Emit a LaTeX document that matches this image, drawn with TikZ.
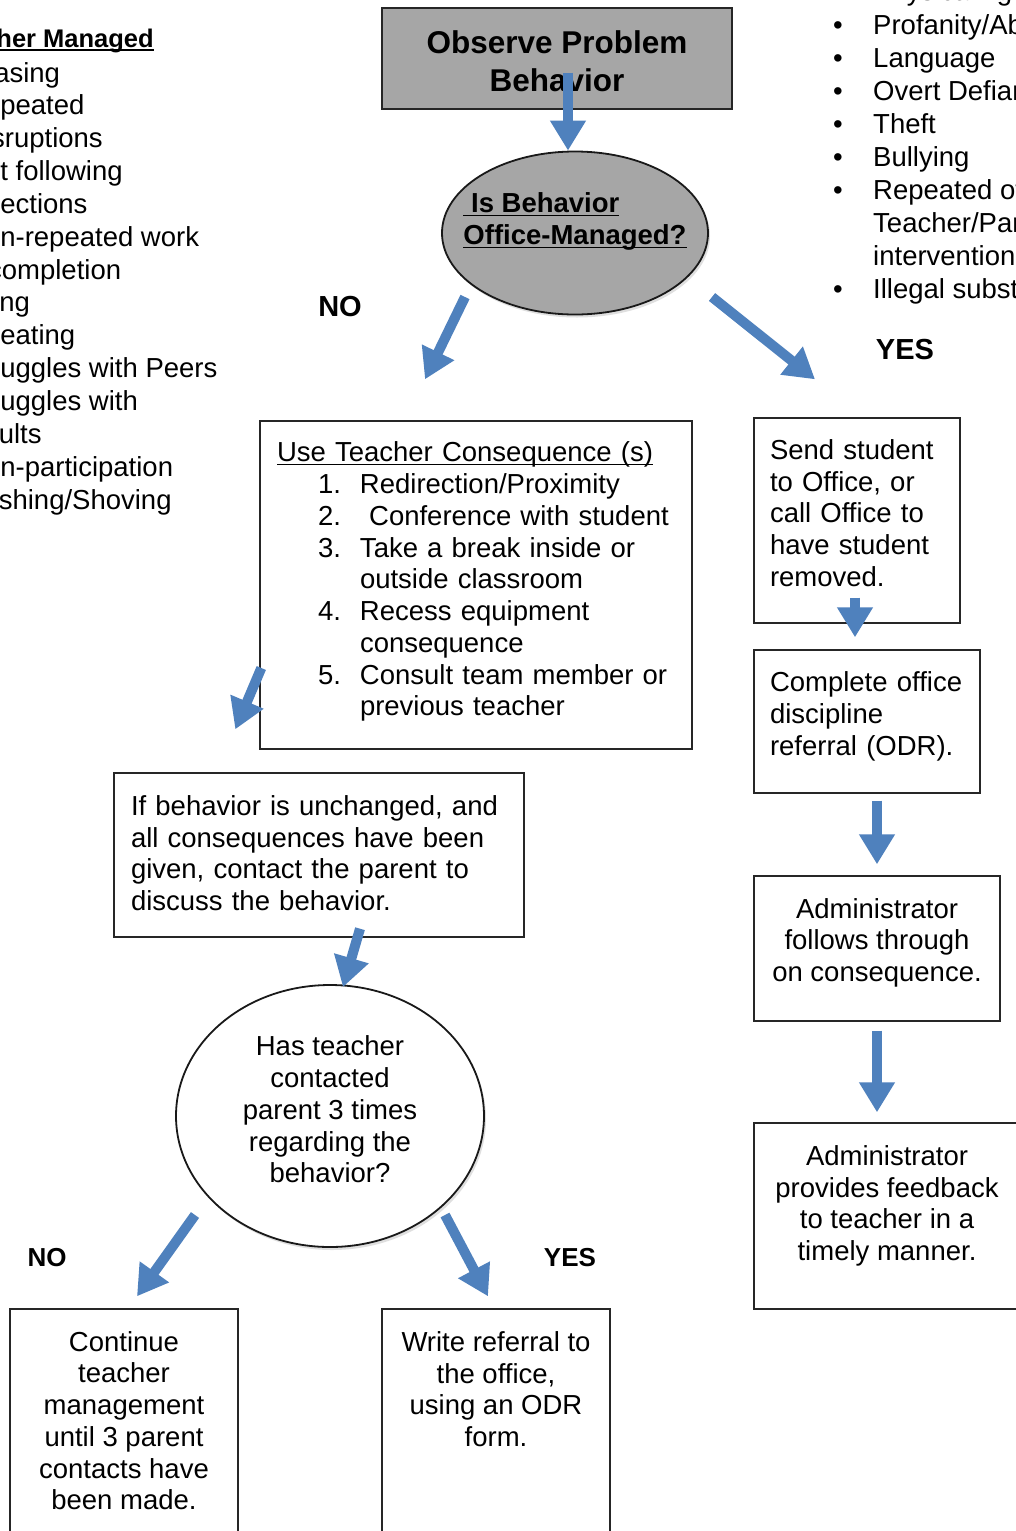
\documentclass[tikz,border=0pt]{standalone}
\usepackage{fontspec}
\setmainfont{Liberation Sans}
\usepackage{tikz}
\usetikzlibrary{shapes.geometric, arrows.meta, calc, shadows}
\usepackage{color,xcolor}
\definecolor{flowblue}{HTML}{4F81BD}
\definecolor{shapegray}{gray}{0.65}
\newcommand{\ulbar}[1]{\setbox0\hbox{#1}\rlap{\rule[-3.5pt]{\wd0}{1.8pt}}\box0}
\newcommand{\strutto}[2]{\rule[-#2]{0pt}{\dimexpr#1+#2\relax}}
\newcommand{\itemno}[1]{\hspace*{41pt}\makebox[42pt][l]{#1}}

\begin{document}
\begin{tikzpicture}[x=1pt,y=-1pt,
    flowbox/.style={draw=black!85, line width=1.4pt, inner sep=0pt, font=\fontsize{27.5}{31.75}\selectfont},
    bubble/.style={ellipse, draw=black!90, line width=1.8pt, inner sep=0pt, drop shadow={opacity=0.25, shadow xshift=2pt, shadow yshift=-3pt}},
    flow/.style={flowblue, line width=10pt, -{Triangle[width=34pt,length=30pt]}},
    answer/.style={font=\fontsize{29}{34}\selectfont\bfseries, inner sep=0pt},
    listitem/.style={font=\fontsize{27.5}{32}\selectfont, inner sep=0pt, anchor=base west}]
    \useasboundingbox (0,0) rectangle (1016,1531);
    \clip (0,0) rectangle (1016,1531);
    \fill[white] (0,0) rectangle (1016,1531);

    \node[listitem, font=\fontsize{25.5}{30}\selectfont\bfseries] (tmhead) at (-60,47) {\ulbar{Teacher Managed}};
    \foreach \entry [count=\i] in {Teasing, Repeated, Disruptions, Not following, Directions, Non-repeated work, Incompletion, Lying, Cheating, Struggles with Peers, Struggles with, Adults, Non-participation, Pushing/Shoving}
        \node[listitem] (tm\i) at (-35,{82+32.85*(\i-1)}) {\entry};
    \foreach \entry [count=\i] in {Physical fighting, Profanity/Abusive, Language, Overt Defiance, Theft, Bullying, Repeated offenses, Teacher/Parent, intervention, Illegal substances}
        \node[listitem] (om\i) at (873,{1+33*(\i-1)}) {\entry};
    \foreach \i in {1,...,7,10}
        \node[listitem, anchor=base] (dot\i) at (838,{1+33*(\i-1)}) {\textbullet};

    \node[flowbox, fill=shapegray, minimum width=350pt, minimum height=101pt, align=center, font=\fontsize{31.5}{38}\selectfont\bfseries] (obs) at (557,58.5) {\strutto{29pt}{0pt}Observe Problem\\Behavior};
    \node[bubble, fill=shapegray, minimum width=266pt, minimum height=163pt, inner xsep=-25pt, align=left, font=\fontsize{27.5}{32}\selectfont\bfseries] (ask) at (575,233) {\ulbar{\ Is Behavior}\\\ulbar{Office-Managed?}\strutto{0pt}{28pt}};
    \node[answer] (no1) at (340,307) {NO};
    \node[answer] (yes1) at (905,350) {YES};

    \node[flowbox, minimum width=432pt, minimum height=328pt, text width=398pt, align=left] (cons) at (476,585) {\ulbar{Use Teacher Consequence (s)}\\
        \itemno{1.}Redirection/Proximity\\
        \itemno{2.}\ Conference with student\\
        \itemno{3.}Take a break inside or\\
        \hspace*{83pt}outside classroom\\
        \itemno{4.}Recess equipment\\
        \hspace*{83pt}consequence\\
        \itemno{5.}Consult team member or\\
        \hspace*{83pt}previous teacher\strutto{0pt}{12pt}};
    \node[flowbox, minimum width=410pt, minimum height=164pt, text width=376pt, align=left] (ifb) at (319,855) {If behavior is unchanged, and\\all consequences have been\\given, contact the parent to\\discuss the behavior.\strutto{0pt}{4pt}};
    \node[bubble, fill=white, minimum width=308pt, minimum height=262pt, align=center, font=\fontsize{27.5}{31.75}\selectfont] (par) at (330,1116) {Has teacher\\contacted\\parent 3 times\\regarding the\\behavior?\strutto{0pt}{13pt}};
    \node[answer, font=\fontsize{26}{30}\selectfont\bfseries] (no2) at (47,1258) {NO};
    \node[answer, font=\fontsize{26}{30}\selectfont\bfseries] (yes2) at (570,1258) {YES};
    \node[flowbox, minimum width=228pt, minimum height=250pt, align=center] (cont) at (124,1434) {Continue\\teacher\\management\\until 3 parent\\contacts have\\been made.\strutto{0pt}{27pt}};
    \node[flowbox, minimum width=228pt, minimum height=250pt, align=center] (write) at (496,1434) {Write referral to\\the office,\\using an ODR\\form.\strutto{0pt}{90pt}};

    \node[flowbox, minimum width=206pt, minimum height=205pt, text width=174pt, align=left] (send) at (857,520.5) {Send student\\to Office, or\\call Office to\\have student\\removed.\strutto{0pt}{15pt}};
    \node[flowbox, minimum width=226pt, minimum height=143pt, text width=194pt, align=left] (comp) at (867,721.5) {Complete office\\discipline\\referral (ODR).\strutto{0pt}{16pt}};
    \node[flowbox, minimum width=246pt, minimum height=145pt, align=center] (adm) at (877,948.5) {Administrator\\follows through\\on consequence.\strutto{0pt}{17pt}};
    \node[flowbox, minimum width=266pt, minimum height=186pt, align=center] (feed) at (887,1216) {Administrator\\provides feedback\\to teacher in a\\timely manner.\strutto{0pt}{26pt}};

    \draw[flow] ([xshift=11pt,yshift=37pt]obs.south) -- ([xshift=-7pt]ask.north);
    \draw[flow] ($(ask.center)+(-110,64)$) -- ($(cons.north)+(-51,-41)$);
    \draw[flow] ($(ask.center)+(137,64)$) -- ($(send.north)+(-42,-38)$);
    \draw[flow] ($(cons.west)+(2,83)$) -- ($(ifb.north west)+(122,-43)$);
    \draw[flow] ($(ifb.south)+(41,-9)$) -- ($(par.north)+(13,3)$);
    \draw[flow] ($(par.center)+(-135,99)$) -- ($(cont.north)+(13,-12)$);
    \draw[flow] ($(par.center)+(115,99)$) -- ($(write.north)+(-8,-12)$);
    \draw[flow] ([xshift=-2pt,yshift=26pt]send.south) -- ([xshift=-12pt,yshift=12pt]comp.north);
    \draw[flow] ([xshift=10pt,yshift=-7pt]comp.south) -- ([yshift=11pt]adm.north);
    \draw[flow] ([yshift=-9pt]adm.south) -- ([xshift=-10pt,yshift=10pt]feed.north);
\end{tikzpicture}
\end{document}
